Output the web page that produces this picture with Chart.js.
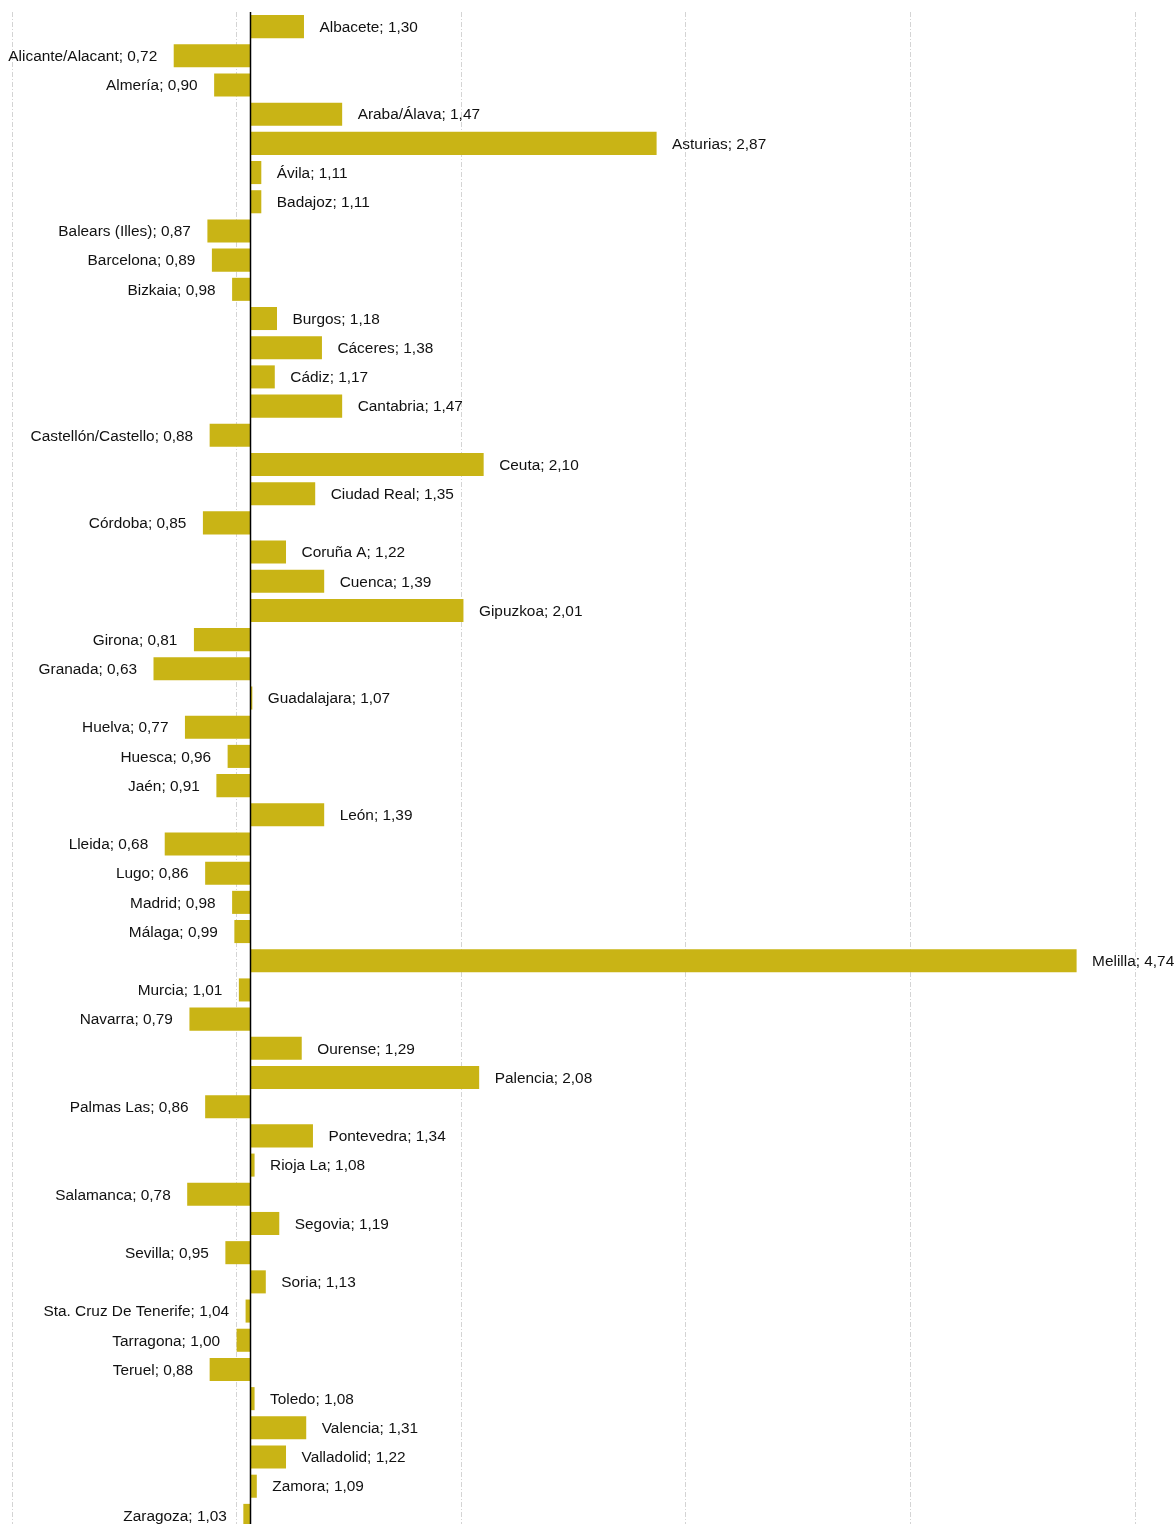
<!DOCTYPE html>
<html>
<head>
<meta charset="utf-8">
<script src="https://cdn.jsdelivr.net/npm/chart.js@4.4.1/dist/chart.umd.min.js"></script>
<style>
html,body{margin:0;padding:0;background:#fff;overflow:hidden;}
canvas{display:block;}
</style>
</head>
<body>
<canvas id="c" width="1176" height="1530"></canvas>
<script>
const provinces = ["Albacete","Alicante/Alacant","Almería","Araba/Álava","Asturias","Ávila","Badajoz","Balears (Illes)","Barcelona","Bizkaia","Burgos","Cáceres","Cádiz","Cantabria","Castellón/Castello","Ceuta","Ciudad Real","Córdoba","Coruña A","Cuenca","Gipuzkoa","Girona","Granada","Guadalajara","Huelva","Huesca","Jaén","León","Lleida","Lugo","Madrid","Málaga","Melilla","Murcia","Navarra","Ourense","Palencia","Palmas Las","Pontevedra","Rioja La","Salamanca","Segovia","Sevilla","Soria","Sta. Cruz De Tenerife","Tarragona","Teruel","Toledo","Valencia","Valladolid","Zamora","Zaragoza"];
const values = [1.30,0.72,0.90,1.47,2.87,1.11,1.11,0.87,0.89,0.98,1.18,1.38,1.17,1.47,0.88,2.10,1.35,0.85,1.22,1.39,2.01,0.81,0.63,1.07,0.77,0.96,0.91,1.39,0.68,0.86,0.98,0.99,4.74,1.01,0.79,1.29,2.08,0.86,1.34,1.08,0.78,1.19,0.95,1.13,1.04,1.00,0.88,1.08,1.31,1.22,1.09,1.03];
const baseValue = 1.06;
const xTicks = [0,1,2,3,4,5];

const fmt = v => v.toFixed(2).replace('.', ',');

const baseLine = {
  id: 'baseLine',
  afterDatasetsDraw(chart) {
    const {ctx, chartArea, scales} = chart;
    const x = Math.round(scales.x.getPixelForValue(baseValue)) + 0.5;
    ctx.save();
    ctx.strokeStyle = '#000';
    ctx.lineWidth = 1.5;
    ctx.beginPath();
    ctx.moveTo(x, chartArea.top);
    ctx.lineTo(x, chartArea.bottom);
    ctx.stroke();
    ctx.restore();
  }
};

const barLabels = {
  id: 'barLabels',
  afterDatasetsDraw(chart) {
    const {ctx} = chart;
    const meta = chart.getDatasetMeta(0);
    ctx.save();
    ctx.font = '15.4px "Liberation Sans", Arial, sans-serif';
    ctx.fillStyle = '#111';
    ctx.textBaseline = 'middle';
    meta.data.forEach((el, i) => {
      const v = values[i];
      const txt = provinces[i] + '; ' + fmt(v);
      const right = Math.max(el.x, el.base);
      const left = Math.min(el.x, el.base);
      const y = el.y + 1;
      if (v >= baseValue) {
        ctx.textAlign = 'left';
        ctx.fillText(txt, right + 15.5, y);
      } else {
        ctx.textAlign = 'right';
        ctx.fillText(txt, left - 16.5, y);
      }
    });
    ctx.restore();
  }
};

new Chart(document.getElementById('c'), {
  type: 'bar',
  data: {
    labels: provinces,
    datasets: [{
      data: values.map(v => [baseValue, v]),
      backgroundColor: '#C9B415',
      borderWidth: 0,
      barPercentage: 0.79,
      categoryPercentage: 1.0
    }]
  },
  options: {
    indexAxis: 'y',
    responsive: false,
    animation: false,
    devicePixelRatio: 1,
    layout: { padding: { left: 12, right: 41, top: 12, bottom: 0 } },
    plugins: { legend: { display: false }, tooltip: { enabled: false } },
    scales: {
      x: {
        min: xTicks[0],
        max: xTicks[xTicks.length - 1],
        afterBuildTicks(scale) { scale.ticks = xTicks.map(v => ({ value: v })); },
        ticks: { display: false },
        border: { display: false, dash: [5, 2, 1, 2] },
        grid: { color: '#d4d4d4', lineWidth: 1, drawTicks: false, tickLength: 0 }
      },
      y: {
        display: false,
        grid: { display: false }
      }
    }
  },
  plugins: [baseLine, barLabels]
});
</script>
</body>
</html>
